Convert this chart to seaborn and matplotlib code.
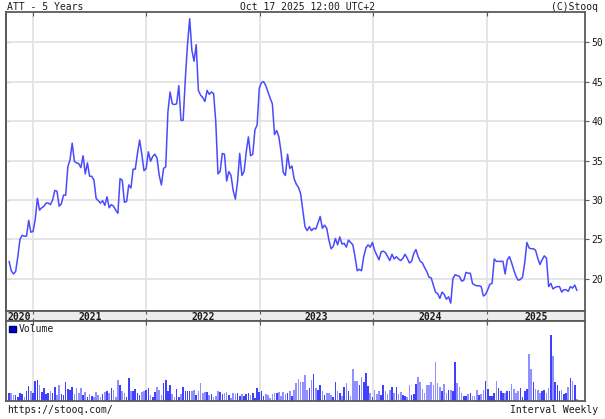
import pandas as pd
import matplotlib.pyplot as plt
from matplotlib.patches import Patch
import seaborn as sns

# Weekly close (Oct 2020 .. Oct 2025)
close = [22.2, 21.0, 20.6, 20.9, 22.8, 25.0, 25.5, 25.4, 25.4, 27.4, 25.9, 26.0, 27.5, 30.2, 28.7,
         29.0, 29.2, 29.6, 29.6, 29.4, 30.0, 31.2, 31.1, 29.2, 29.5, 30.6, 30.6, 34.2, 35.1, 37.2,
         34.9, 34.7, 34.6, 34.1, 35.6, 33.3, 34.7, 33.0, 33.0, 32.5, 30.2, 29.9, 29.6, 29.9, 29.3,
         30.4, 29.0, 29.4, 29.2, 28.7, 28.3, 32.7, 32.5, 29.7, 29.8, 31.9, 31.5, 33.9, 33.9, 35.9,
         37.6, 35.8, 33.7, 34.0, 36.1,
         34.9, 35.5, 35.8, 35.3, 33.1, 31.9, 34.0, 34.2, 41.2, 43.7, 42.2, 42.1, 42.2, 44.5, 40.1,
         40.1, 45.4, 49.7, 53.0, 49.0, 47.6, 49.7, 43.9, 43.3, 43.0, 42.5, 43.9, 43.4, 43.7, 43.5,
         39.9, 33.3, 33.6, 35.9, 35.8, 32.4, 33.6, 33.1, 31.2, 30.1, 32.3, 35.9, 33.1, 33.6, 36.1,
         38.0, 35.6, 35.8, 38.9, 39.5, 44.2, 44.9, 45.0, 44.5, 43.7, 42.9, 42.2, 38.3, 38.8, 38.0,
         36.1, 33.5, 33.1, 35.8, 34.0, 34.3, 32.7,
         32.0, 31.6, 30.8, 28.7, 26.6, 26.1, 26.6, 26.1, 26.4, 26.3, 27.1, 27.9, 26.4, 26.8, 26.4,
         24.9, 23.8, 24.1, 25.1, 24.3, 25.3, 24.4, 24.5, 24.0, 24.9, 24.6, 24.3, 22.8, 21.0, 21.2,
         21.0, 22.8, 23.9, 24.3, 24.0, 24.6, 23.6, 23.0, 22.4, 23.4, 23.5, 23.3, 22.8, 22.3, 23.1,
         22.5, 22.8, 22.5, 22.3, 22.6, 23.1, 22.6, 22.0, 22.2, 23.2, 23.7, 22.8, 22.2, 22.0, 21.4,
         20.9, 20.2, 20.1, 19.2, 18.3, 18.1, 17.5,
         18.3, 18.0, 17.4, 17.7, 16.9, 20.0, 20.5, 20.4, 20.3, 19.7, 19.8, 20.8, 20.7, 20.7, 19.4,
         19.2, 19.1, 19.1, 19.0, 17.8, 18.0, 18.6, 19.3, 19.4, 22.5, 22.2, 22.2, 22.2, 22.2, 20.6,
         22.4, 22.8, 22.0, 21.1, 20.3, 19.8, 19.9, 20.2, 22.0, 24.6, 23.9, 23.8, 23.8, 23.6, 22.6,
         21.8, 22.4, 22.9, 22.6, 19.0, 19.4, 18.7, 18.9, 19.0, 19.0, 18.3, 18.6, 18.6, 18.4, 19.0,
         18.8, 19.2, 18.5]

# Weekly volume (relative units)
volume = [7.7, 7.7, 6, 6, 3.7, 7.7, 7, 4.3, 10, 15, 10,
          7.7, 19.7, 21, 15.7, 9.3, 13.3, 7, 7.7, 10, 8.3,
          14.3, 6, 15.7, 7, 5.7, 19, 12, 11, 14.3, 7,
          12.7, 8.3, 12.7, 6, 9, 4.3, 7, 5, 3.7, 9,
          6, 4.3, 7, 9.3, 10, 8.3, 12.7, 11, 4.3, 21,
          15.7, 10, 7.7, 4.3, 23.3, 10, 10.3, 11.7, 8.3, 6,
          9.3, 9.7, 11, 13, 6, 4.3, 9.3, 13.7, 11, 6,
          18.3, 21, 10, 15.7, 7, 3.7, 11.7, 4.3, 7, 14.3,
          10, 10, 10, 10, 11,
          6, 10, 17.7, 8.3, 9, 9, 6, 7, 3.7,
          5, 10, 9.3, 7, 8.3, 9, 6, 3.3, 8.3,
          7, 7.7, 5, 7, 5, 7, 7.7, 6,
          8.3, 2.7, 12.7, 9.3, 10, 5, 7, 6, 3.3, 7,
          8.3, 7.7, 9.3, 5, 9.3, 7, 8.3, 10,
          5, 11, 17.7, 22, 19.3, 19, 25.7, 11, 13, 21,
          27, 12.7, 11, 16, 10, 6, 8.3, 8.3, 6,
          3.7, 19, 10, 8.3, 5, 14.3, 17.7, 10.3, 5, 32.3,
          19.7, 19.7, 16, 23.7, 19, 27.7, 15, 8.3, 3.7, 11,
          7, 10.3, 6, 15.7, 10.3, 7, 11, 14.3, 8.3,
          14.3, 7, 9, 6, 5, 3.7, 15.7, 6, 7,
          16.7, 23.7, 19, 11.7, 8.3, 15.7, 15.7, 19, 15.7,
          39, 18.3, 13.7, 10, 16.7, 8.3, 11, 11, 10,
          39, 17.7, 13.7, 7.7, 5, 5, 7, 8.3, 5, 5,
          11, 6, 7, 11, 20, 11.7, 5, 5, 8.3, 20.3,
          12.7, 10.3, 8.3, 7.7, 10, 10, 16.7, 11.7, 8.3, 10,
          12.7, 3.7, 10.3, 11.7, 47, 31.7, 19.3, 12, 11,
          8.3, 10, 11, 7.7, 12.7, 66.3, 45, 19.3, 16, 10.3,
          11, 7, 8.3, 13.7, 23.3, 20, 15.7, 2.3]

years = [2020, 2021, 2022, 2023, 2024, 2025]
price_ticks = [20, 25, 30, 35, 40, 45, 50]

n = min(len(close), len(volume))
df = pd.DataFrame({
    'Date': pd.date_range(end='2025-10-17', periods=n, freq='W-FRI'),
    'Close': close[:n],
    'Volume': volume[:n],
})
df['Up'] = df['Close'].diff().fillna(0) >= 0

sns.set_style('white')
plt.rcParams['font.family'] = ['DejaVu Sans Mono']
TXT = '#1a1a1a'
SPINE = '#5a5a5a'
GRID = '#e3e3e3'
LINE = '#4a4aff'

W, H = 605, 419
fig = plt.figure(figsize=(W / 100, H / 100), dpi=100)


def box(l, t, r, b):
    return [l / W, 1 - b / H, (r - l) / W, (b - t) / H]


ax = fig.add_axes(box(6, 12, 585, 311))
band = fig.add_axes(box(6, 311, 585, 321))
axv = fig.add_axes(box(6, 321, 585, 401))

xmin, xmax = pd.Timestamp('2020-10-06'), pd.Timestamp('2025-11-12')
year_starts = [pd.Timestamp(f'{y}-01-01') for y in years[1:]]

# price panel
sns.lineplot(data=df, x='Date', y='Close', ax=ax, color=LINE, linewidth=1.1)
ax.set_xlim(xmin, xmax)
ax.set_ylim(15.9, 53.85)
ax.set_xlabel('')
ax.set_ylabel('')
ax.set_yticks(price_ticks)
ax.set_xticks(year_starts)
ax.yaxis.tick_right()
ax.grid(True, axis='both', color=GRID, linewidth=1.3)
ax.set_axisbelow(True)
ax.tick_params(axis='x', bottom=False, top=True, direction='in', length=3,
               color=SPINE, labelbottom=False)
ax.tick_params(axis='y', right=True, left=False, direction='out', length=3,
               color=SPINE, labelsize=7, labelcolor=TXT, pad=1.5)
sec = ax.secondary_yaxis('left')
sec.set_yticks(price_ticks)
sec.tick_params(direction='in', length=3, color=SPINE, labelleft=False)
sec.spines['left'].set_color(SPINE)
sec.spines['left'].set_linewidth(1.3)

# year band
band.set_facecolor('#ececec')
band.set_xlim(xmin, xmax)
band.set_ylim(0, 1)
band.set_yticks([])
band.set_xticks(year_starts)
band.tick_params(axis='x', bottom=True, top=True, direction='in', length=2,
                 color=SPINE, labelbottom=False)
bounds = [xmin] + year_starts + [xmax]
for y, lo, hi in zip(years, bounds[:-1], bounds[1:]):
    band.text(lo + (hi - lo) / 2, 0.45, str(y), ha='center', va='center',
              fontsize=7, fontweight='bold', color=TXT)

# volume panel
colors = ['#4040ff' if u else '#9090ff' for u in df['Up']]
axv.bar(df['Date'], df['Volume'], width=5.2, color=colors, linewidth=0)
axv.set_xlim(xmin, xmax)
axv.set_ylim(0, 80)
axv.set_yticks([])
axv.set_xticks(year_starts)
axv.grid(True, axis='x', color=GRID, linewidth=1.3)
axv.set_axisbelow(True)
axv.tick_params(axis='x', bottom=False, top=True, direction='in', length=3,
                color=SPINE, labelbottom=False)
axv.legend(handles=[Patch(facecolor='#0000d0', edgecolor='#000060', label='Volume')],
           loc='upper left', frameon=False, fontsize=7, handlelength=0.7,
           handleheight=0.7, handletextpad=0.3, borderaxespad=0.15,
           borderpad=0.2, labelcolor=TXT)

for a in (ax, band, axv):
    for s in a.spines.values():
        s.set_color(SPINE)
        s.set_linewidth(1.3)

fig.text(7 / W, 1 - 6.5 / H, 'ATT - 5 Years', ha='left', va='center', fontsize=7, color=TXT)
fig.text(308 / W, 1 - 6.5 / H, 'Oct 17 2025 12:00 UTC+2', ha='center', va='center',
         fontsize=7, color=TXT)
fig.text(598 / W, 1 - 6.5 / H, '(C)Stooq', ha='right', va='center', fontsize=7, color=TXT)
fig.text(7 / W, 1 - 410 / H, 'https://stooq.com/', ha='left', va='center', fontsize=7, color=TXT)
fig.text(598 / W, 1 - 410 / H, 'Interval Weekly', ha='right', va='center', fontsize=7, color=TXT)

fig.savefig('out.png', dpi=100, facecolor='white')
